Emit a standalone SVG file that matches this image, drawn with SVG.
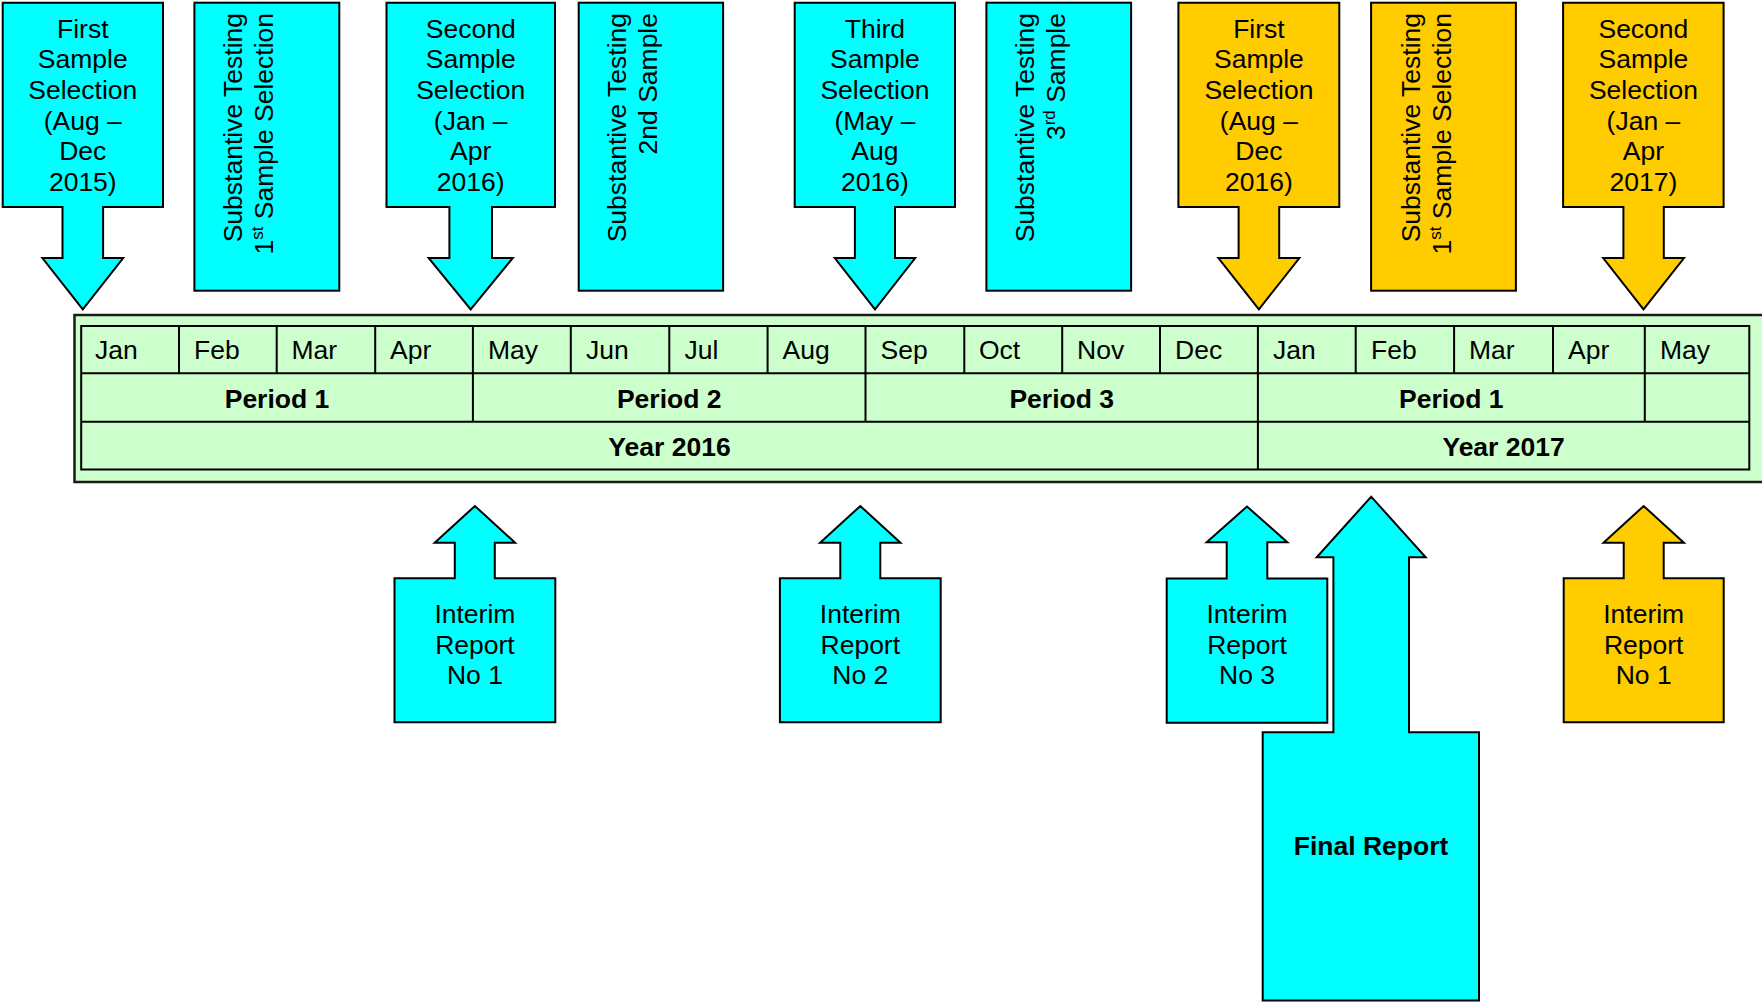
<svg xmlns="http://www.w3.org/2000/svg" width="1762" height="1002" viewBox="0 0 1762 1002">
  <style>
    .t { font-family: "Liberation Sans", Arial, sans-serif; font-size: 26.5px; fill: #000; }
    .c { text-anchor: middle; }
    .e { text-anchor: end; }
    .b { font-weight: bold; }
    .sup { font-size: 17px; }
    .cyan { fill: #00FFFF; stroke: #000; stroke-width: 2; stroke-linejoin: miter; }
    .gold { fill: #FFCC00; stroke: #000; stroke-width: 2; stroke-linejoin: miter; }
    .grid { fill: none; stroke: #000; stroke-width: 2; }
  </style>
  <rect width="1762" height="1002" fill="#fff"/>

  <!-- Timeline table -->
  <g id="timeline">
    <rect x="74.5" y="315" width="1700" height="167" fill="#CCFFCC" stroke="#1a1a1a" stroke-width="2.5"/>
    <rect x="81.2" y="326" width="1668.1" height="143.5" class="grid"/>
    <line x1="81.2" y1="373.3" x2="1749.3" y2="373.3" class="grid"/>
    <line x1="81.2" y1="421.7" x2="1749.3" y2="421.7" class="grid"/>
    <!-- month dividers -->
    <path class="grid" d="M179,326V373.3 M276.7,326V373.3 M375.2,326V373.3 M570.8,326V373.3 M669.3,326V373.3 M767.6,326V373.3 M964.3,326V373.3 M1062.2,326V373.3 M1160,326V373.3 M1355.7,326V373.3 M1454.1,326V373.3 M1553,326V373.3"/>
    <!-- period dividers -->
    <path class="grid" d="M472.9,326V421.7 M865.5,326V421.7 M1644.8,326V421.7"/>
    <!-- year divider -->
    <path class="grid" d="M1257.9,326V469.5"/>
    <g class="t">
      <text x="95" y="359">Jan</text>
      <text x="194" y="359">Feb</text>
      <text x="291.5" y="359">Mar</text>
      <text x="390" y="359">Apr</text>
      <text x="488" y="359">May</text>
      <text x="586" y="359">Jun</text>
      <text x="684.5" y="359">Jul</text>
      <text x="782.5" y="359">Aug</text>
      <text x="880.5" y="359">Sep</text>
      <text x="979" y="359">Oct</text>
      <text x="1077" y="359">Nov</text>
      <text x="1175" y="359">Dec</text>
      <text x="1273" y="359">Jan</text>
      <text x="1371" y="359">Feb</text>
      <text x="1469" y="359">Mar</text>
      <text x="1568" y="359">Apr</text>
      <text x="1660" y="359">May</text>
    </g>
    <g class="t c b">
      <text x="277" y="408">Period 1</text>
      <text x="669.2" y="408">Period 2</text>
      <text x="1061.7" y="408">Period 3</text>
      <text x="1451.3" y="408">Period 1</text>
      <text x="669.5" y="456">Year 2016</text>
      <text x="1503.6" y="456">Year 2017</text>
    </g>
  </g>

  <!-- Sample selection callouts (pointing down into the timeline) -->
  <g id="sel-first-2015">
    <path class="cyan" d="M2.7,2.7H163V207H103.1V258H123.2L82.8,309.3L42.4,258H62.5V207H2.7Z"/>
    <text class="t c"><tspan x="82.8" y="37.5">First</tspan><tspan x="82.8" y="68.2">Sample</tspan><tspan x="82.8" y="98.8">Selection</tspan><tspan x="82.8" y="129.5">(Aug –</tspan><tspan x="82.8" y="160.1">Dec</tspan><tspan x="82.8" y="190.8">2015)</tspan></text>
  </g>
  <g id="sel-second-2016">
    <path class="cyan" d="M386.5,2.7H555V207H492V258H512.8L470.7,309.3L428.6,258H449.4V207H386.5Z"/>
    <text class="t c"><tspan x="470.7" y="37.5">Second</tspan><tspan x="470.7" y="68.2">Sample</tspan><tspan x="470.7" y="98.8">Selection</tspan><tspan x="470.7" y="129.5">(Jan –</tspan><tspan x="470.7" y="160.1">Apr</tspan><tspan x="470.7" y="190.8">2016)</tspan></text>
  </g>
  <g id="sel-third-2016">
    <path class="cyan" d="M794.7,2.7H955V207H895V258H915.2L875,309.3L834.8,258H854.9V207H794.7Z"/>
    <text class="t c"><tspan x="874.9" y="37.5">Third</tspan><tspan x="874.9" y="68.2">Sample</tspan><tspan x="874.9" y="98.8">Selection</tspan><tspan x="874.9" y="129.5">(May –</tspan><tspan x="874.9" y="160.1">Aug</tspan><tspan x="874.9" y="190.8">2016)</tspan></text>
  </g>
  <g id="sel-first-2016">
    <path class="gold" d="M1178.4,2.7H1339.3V207H1279.2V258H1299.4L1258.9,309.3L1218.4,258H1238.6V207H1178.4Z"/>
    <text class="t c"><tspan x="1258.9" y="37.5">First</tspan><tspan x="1258.9" y="68.2">Sample</tspan><tspan x="1258.9" y="98.8">Selection</tspan><tspan x="1258.9" y="129.5">(Aug –</tspan><tspan x="1258.9" y="160.1">Dec</tspan><tspan x="1258.9" y="190.8">2016)</tspan></text>
  </g>
  <g id="sel-second-2017">
    <path class="gold" d="M1563.1,2.7H1723.6V207H1663.8V258H1684L1643.5,309.3L1603.2,258H1623.4V207H1563.1Z"/>
    <text class="t c"><tspan x="1643.4" y="37.5">Second</tspan><tspan x="1643.4" y="68.2">Sample</tspan><tspan x="1643.4" y="98.8">Selection</tspan><tspan x="1643.4" y="129.5">(Jan –</tspan><tspan x="1643.4" y="160.1">Apr</tspan><tspan x="1643.4" y="190.8">2017)</tspan></text>
  </g>

  <!-- Substantive testing panels (vertical text) -->
  <g id="test-first-2016">
    <rect class="cyan" x="194.4" y="2.7" width="144.9" height="288"/>
    <text class="t e" transform="translate(241.9,13) rotate(-90)"><tspan x="0" y="0">Substantive Testing</tspan><tspan x="0" y="31">1<tspan class="sup" dy="-10">st</tspan><tspan dy="10"> Sample Selection</tspan></tspan></text>
  </g>
  <g id="test-second-2016">
    <rect class="cyan" x="578.7" y="2.7" width="144.4" height="288"/>
    <text class="t e" transform="translate(626.2,13) rotate(-90)"><tspan x="0" y="0">Substantive Testing</tspan><tspan x="0" y="31">2nd Sample</tspan></text>
  </g>
  <g id="test-third-2016">
    <rect class="cyan" x="986.4" y="2.7" width="144.7" height="288"/>
    <text class="t e" transform="translate(1033.9,13) rotate(-90)"><tspan x="0" y="0">Substantive Testing</tspan><tspan x="0" y="31">3<tspan class="sup" dy="-10">rd</tspan><tspan dy="10"> Sample</tspan></tspan></text>
  </g>
  <g id="test-first-2017">
    <rect class="gold" x="1371.1" y="2.7" width="144.8" height="288"/>
    <text class="t e" transform="translate(1419.6,13) rotate(-90)"><tspan x="0" y="0">Substantive Testing</tspan><tspan x="0" y="31">1<tspan class="sup" dy="-10">st</tspan><tspan dy="10"> Sample Selection</tspan></tspan></text>
  </g>

  <!-- Report callouts (pointing up at the timeline) -->
  <g id="interim-1">
    <path class="cyan" d="M394.5,722.3H555.3V578.3H494.8V542.7H515.1L474.9,506L434.7,542.7H454.8V578.3H394.5Z"/>
    <text class="t c"><tspan x="474.9" y="623.3">Interim</tspan><tspan x="474.9" y="653.8">Report</tspan><tspan x="474.9" y="683.5">No 1</tspan></text>
  </g>
  <g id="interim-2">
    <path class="cyan" d="M779.9,722.3H940.7V578.3H880.3V542.7H900.5L860.3,506L820.1,542.7H840.3V578.3H779.9Z"/>
    <text class="t c"><tspan x="860.3" y="623.3">Interim</tspan><tspan x="860.3" y="653.8">Report</tspan><tspan x="860.3" y="683.5">No 2</tspan></text>
  </g>
  <g id="interim-3">
    <path class="cyan" d="M1166.7,722.7H1327.3V578.5H1267.3V542.3H1287.3L1247,506.5L1206.7,542.3H1226.7V578.5H1166.7Z"/>
    <text class="t c"><tspan x="1247" y="623.3">Interim</tspan><tspan x="1247" y="653.8">Report</tspan><tspan x="1247" y="683.5">No 3</tspan></text>
  </g>
  <g id="final-report">
    <path class="cyan" d="M1262.7,1000.5H1479V732.3H1409V557.3H1425.7L1371.2,496.7L1316.7,557.3H1333.4V732.3H1262.7Z"/>
    <text class="t c b" x="1371" y="855">Final Report</text>
  </g>
  <g id="interim-1-2017">
    <path class="gold" d="M1563.7,722.3H1723.7V578.3H1663.7V542.7H1683.9L1643.7,506L1603.5,542.7H1623.7V578.3H1563.7Z"/>
    <text class="t c"><tspan x="1643.7" y="623.3">Interim</tspan><tspan x="1643.7" y="653.8">Report</tspan><tspan x="1643.7" y="683.5">No 1</tspan></text>
  </g>
</svg>
